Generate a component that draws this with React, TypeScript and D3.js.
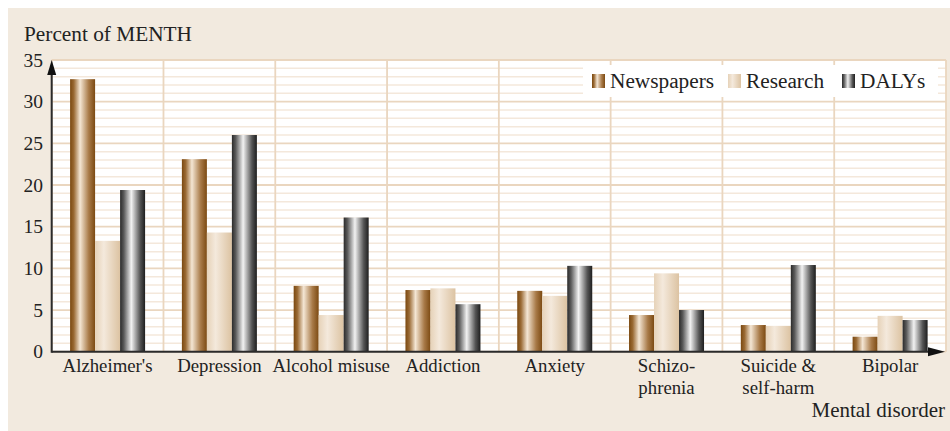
import React from "react";
import * as d3 from "d3";

const categories: string[][] = [
  ["Alzheimer's"],
  ["Depression"],
  ["Alcohol misuse"],
  ["Addiction"],
  ["Anxiety"],
  ["Schizo-", "phrenia"],
  ["Suicide &", "self-harm"],
  ["Bipolar"],
];
const seriesNames = ["Newspapers", "Research", "DALYs"];
const newspapers = [32.7, 23.1, 7.9, 7.4, 7.3, 4.4, 3.2, 1.8];
const research = [13.3, 14.3, 4.4, 7.6, 6.7, 9.4, 3.1, 4.3];
const dalys = [19.4, 26.0, 16.1, 5.7, 10.3, 5.0, 10.4, 3.8];
const yTicks = [0, 5, 10, 15, 20, 25, 30, 35];

const W = 950;
const H = 431;
const left = 51.7;
const right = 946;
const top = 60;
const bottom = 351.7;
const FONT = "Liberation Serif, Times New Roman, Times, DejaVu Serif, serif";

export default function App() {
  const values = [newspapers, research, dalys];
  const x = d3
    .scaleBand<number>()
    .domain(d3.range(categories.length))
    .range([left, right])
    .padding(0);
  const bw = x.bandwidth();
  const inner = d3
    .scaleBand<number>()
    .domain(d3.range(seriesNames.length))
    .range([bw / 2 - 37.5, bw / 2 + 37.5])
    .padding(0);
  const y = d3.scaleLinear().domain([0, 35]).range([bottom, top]);
  const minor = d3.range(0, 36, 1);
  const gradIds = ["gNews", "gRes", "gDaly"];
  const txt = { fontFamily: FONT };

  return (
    <svg
      width={W}
      height={H}
      style={{ position: "absolute", left: 0, top: 0, fontFamily: FONT }}
    >
      <defs>
        <linearGradient id="gNews" x1="0" x2="1" y1="0" y2="0">
          <stop offset="0%" stopColor="#7a4810" />
          <stop offset="15%" stopColor="#9a6a34" />
          <stop offset="40%" stopColor="#f4e6d4" />
          <stop offset="75%" stopColor="#a87a48" />
          <stop offset="100%" stopColor="#7c4a12" />
        </linearGradient>
        <linearGradient id="gRes" x1="0" x2="1" y1="0" y2="0">
          <stop offset="0%" stopColor="#e6d2b8" />
          <stop offset="35%" stopColor="#f4e9dc" />
          <stop offset="100%" stopColor="#dcc3a2" />
        </linearGradient>
        <linearGradient id="gDaly" x1="0" x2="1" y1="0" y2="0">
          <stop offset="0%" stopColor="#2a2a2a" />
          <stop offset="15%" stopColor="#5a5a5a" />
          <stop offset="45%" stopColor="#f2f2f2" />
          <stop offset="80%" stopColor="#555555" />
          <stop offset="100%" stopColor="#1e1e1e" />
        </linearGradient>
      </defs>

      <rect x={8} y={8} width={W - 8} height={H - 8} fill="#f2eadf" />
      <rect x={left} y={top} width={right - left} height={bottom - top} fill="#ffffff" />

      {minor.map((v) => (
        <line
          key={"m" + v}
          x1={left}
          x2={right}
          y1={y(v)}
          y2={y(v)}
          stroke={v % 5 === 0 ? "#ead6bf" : "#f4e8db"}
          strokeWidth={v % 5 === 0 ? 1.8 : 1.5}
        />
      ))}
      {d3.range(categories.length + 1).map((i) => {
        const xx = i < categories.length ? (x(i) as number) : right;
        return (
          <line
            key={"v" + i}
            x1={xx}
            x2={xx}
            y1={top}
            y2={bottom}
            stroke="#ead6bf"
            strokeWidth={1.8}
          />
        );
      })}

      {categories.map((_, ci) =>
        values.map((vals, si) => {
          const bx = (x(ci) as number) + (inner(si) as number);
          return (
            <rect
              key={ci + "-" + si}
              x={bx}
              y={y(vals[ci])}
              width={inner.bandwidth()}
              height={bottom - y(vals[ci])}
              fill={`url(#${gradIds[si]})`}
            />
          );
        })
      )}

      {/* axes */}
      <line x1={left} x2={left} y1={bottom + 1} y2={top + 10} stroke="#2b2b2b" strokeWidth={2} />
      <path d={`M${left - 4.5},${top + 15} L${left},${top} L${left + 4.5},${top + 15} Z`} fill="#111" />
      <line x1={left} x2={right - 10} y1={bottom} y2={bottom} stroke="#2b2b2b" strokeWidth={2} />
      <path d={`M${right - 18},${bottom - 4.5} L${right - 1},${bottom} L${right - 18},${bottom + 4.5} Z`} fill="#111" />

      {yTicks.map((t) => (
        <text
          key={"t" + t}
          x={43}
          y={y(t)}
          textAnchor="end"
          dominantBaseline="central"
          fontSize={19.5}
          fill="#222"
          style={txt}
        >
          {t}
        </text>
      ))}

      {categories.map((lines, ci) => (
        <text
          key={"c" + ci}
          x={(x(ci) as number) + bw / 2}
          y={371.5}
          textAnchor="middle"
          fontSize={18.8}
          fill="#222"
          style={txt}
        >
          {lines.map((l, li) => (
            <tspan key={li} x={(x(ci) as number) + bw / 2} dy={li === 0 ? 0 : 22.5}>
              {l}
            </tspan>
          ))}
        </text>
      ))}

      <text x={24} y={40.5} fontSize={21.3} fill="#222" style={txt}>
        Percent of MENTH
      </text>
      <text x={945} y={417} textAnchor="end" fontSize={21} fill="#222" style={txt}>
        Mental disorder
      </text>

      {/* legend */}
      <rect x={583} y={65} width={355} height={32} fill="#ffffff" />
      {seriesNames.map((s, i) => {
        const sx = [592, 728, 842][i];
        return (
          <g key={s}>
            <rect x={sx} y={74} width={13} height={14} fill={`url(#${gradIds[i]})`} />
            <text x={sx + 18} y={87.5} fontSize={21.3} fill="#222" style={txt}>
              {s}
            </text>
          </g>
        );
      })}
    </svg>
  );
}
